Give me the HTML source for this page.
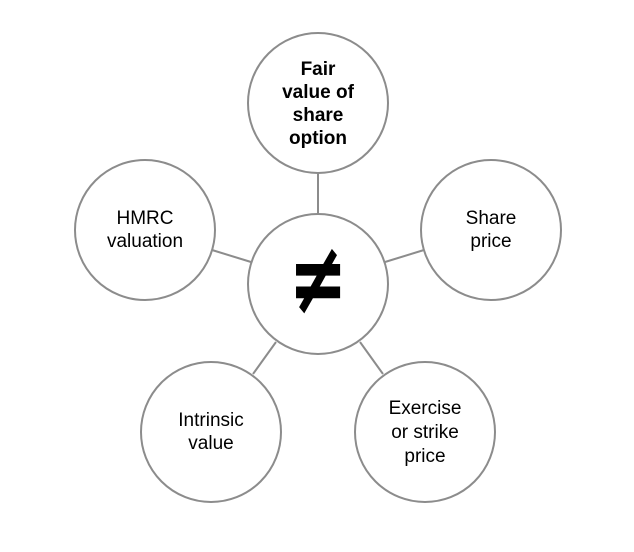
<!DOCTYPE html>
<html><head><style>html,body{margin:0;padding:0;background:#fff;}</style></head>
<body>
<svg width="634" height="552" viewBox="0 0 634 552" xmlns="http://www.w3.org/2000/svg" style="display:block">
<g stroke="#8c8c8c" stroke-width="2" fill="#fff">
<line x1="318" y1="173" x2="318" y2="214"/>
<line x1="212" y1="250" x2="251" y2="262"/>
<line x1="424" y1="250" x2="385" y2="262"/>
<line x1="253" y1="374" x2="276" y2="342"/>
<line x1="383" y1="374" x2="360" y2="342"/>
<circle cx="318" cy="284" r="70"/>
<circle cx="318" cy="103" r="70"/>
<circle cx="145" cy="230" r="70"/>
<circle cx="491" cy="230" r="70"/>
<circle cx="211" cy="432" r="70"/>
<circle cx="425" cy="432" r="70"/>
</g>
<g font-family="Liberation Sans, sans-serif" font-size="19" text-anchor="middle" fill="#000">
<text x="318" y="75" font-weight="bold">Fair</text>
<text x="318" y="98" font-weight="bold">value of</text>
<text x="318" y="121" font-weight="bold">share</text>
<text x="318" y="144" font-weight="bold">option</text>
<text x="145" y="224">HMRC</text>
<text x="145" y="247">valuation</text>
<text x="491" y="224">Share</text>
<text x="491" y="247">price</text>
<text x="211" y="426">Intrinsic</text>
<text x="211" y="449">value</text>
<text x="425" y="414">Exercise</text>
<text x="425" y="438">or strike</text>
<text x="425" y="462">price</text>
<g transform="translate(318,280) scale(0.88,1.27) translate(-318,-286)">
<text x="318" y="312" font-family="DejaVu Sans, sans-serif" font-weight="bold" font-size="80">≠</text>
</g>
</g>
</svg>
</body></html>
